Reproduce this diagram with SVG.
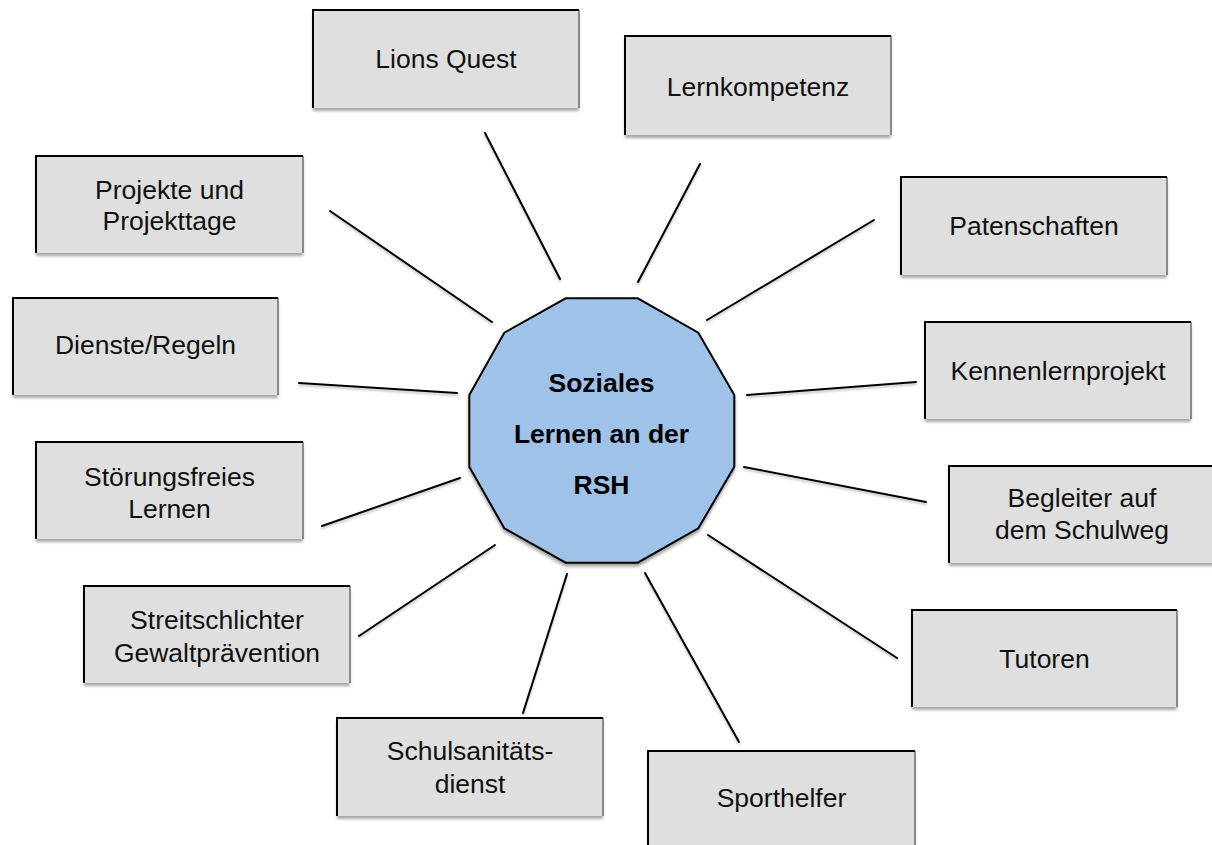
<svg xmlns="http://www.w3.org/2000/svg" width="1212" height="845" viewBox="0 0 1212 845">
<style>
.box{fill:#dfdfdf;filter:url(#sh)}
.edge{fill:none;stroke:#000;stroke-width:2}
.redge{fill:none;stroke:#333;stroke-width:1}
.lbl{font-family:"Liberation Sans",Arial,sans-serif;font-size:26.5px;fill:#111;text-anchor:middle}
.ctr{font-family:"Liberation Sans",Arial,sans-serif;font-size:26.5px;font-weight:bold;fill:#000;text-anchor:middle}
#connectors line{stroke:#000;stroke-width:2;stroke-linecap:round}
</style>
<defs>
<filter id="sh" x="-10%" y="-10%" width="120%" height="130%">
<feDropShadow dx="0" dy="3" stdDeviation="1.8" flood-color="#000" flood-opacity="0.35"/>
</filter>
<filter id="lsh" x="-10%" y="-10%" width="120%" height="120%">
<feDropShadow dx="0" dy="2" stdDeviation="1.2" flood-color="#000" flood-opacity="0.25"/>
</filter>
</defs>
<rect width="1212" height="845" fill="#fff"/>
<g id="connectors" filter="url(#lsh)">
<line x1="485" y1="133" x2="560" y2="279"/>
<line x1="700" y1="164" x2="638" y2="282"/>
<line x1="874" y1="220" x2="707" y2="320"/>
<line x1="916" y1="382" x2="747" y2="395"/>
<line x1="926" y1="502" x2="744" y2="467"/>
<line x1="897" y1="658" x2="708" y2="535"/>
<line x1="739" y1="742" x2="645" y2="573"/>
<line x1="523" y1="713" x2="567" y2="574"/>
<line x1="359" y1="636" x2="495" y2="545"/>
<line x1="322" y1="526" x2="460" y2="478"/>
<line x1="299" y1="383" x2="457" y2="393"/>
<line x1="330" y1="211" x2="492" y2="322"/>
</g>
<g id="center">
<polygon points="565.7,298.3 637.7,298.3 698.3,332.7 734.3,395 734.3,466.7 698.3,528.3 637.7,562.7 565.7,562.7 504.3,528.3 469.3,466.7 469.3,395 504.3,332.7" fill="#9fc2e8" stroke="#000" stroke-width="2" filter="url(#sh)"/>
<text class="ctr" x="601.5" y="392">Soziales</text>
<text class="ctr" x="601.5" y="443">Lernen an der</text>
<text class="ctr" x="601.5" y="494">RSH</text>
</g>
<g id="lionsquest">
<rect class="box" x="313" y="10" width="266" height="98"/>
<path class="edge" d="M313,108 V10 H579"/><path class="redge" d="M579,10 V108"/>
<text class="lbl" x="446" y="68">Lions Quest</text>
</g>
<g id="lernkompetenz">
<rect class="box" x="625" y="36" width="266" height="99"/>
<path class="edge" d="M625,135 V36 H891"/><path class="redge" d="M891,36 V135"/>
<text class="lbl" x="758" y="96">Lernkompetenz</text>
</g>
<g id="patenschaften">
<rect class="box" x="901" y="177" width="266" height="98"/>
<path class="edge" d="M901,275 V177 H1167"/><path class="redge" d="M1167,177 V275"/>
<text class="lbl" x="1034" y="235">Patenschaften</text>
</g>
<g id="kennenlernprojekt">
<rect class="box" x="925" y="322" width="266" height="97"/>
<path class="edge" d="M925,419 V322 H1191"/><path class="redge" d="M1191,322 V419"/>
<text class="lbl" x="1058" y="380">Kennenlernprojekt</text>
</g>
<g id="begleiter">
<rect class="box" x="949" y="466" width="266" height="97"/>
<path class="edge" d="M949,563 V466 H1215"/>
<text class="lbl" x="1082" y="507">Begleiter auf</text>
<text class="lbl" x="1082" y="539">dem Schulweg</text>
</g>
<g id="tutoren">
<rect class="box" x="912" y="610" width="265" height="97"/>
<path class="edge" d="M912,707 V610 H1177"/><path class="redge" d="M1177,610 V707"/>
<text class="lbl" x="1044.5" y="668">Tutoren</text>
</g>
<g id="sporthelfer">
<rect class="box" x="648" y="751" width="267" height="98"/>
<path class="edge" d="M648,849 V751 H915"/><path class="redge" d="M915,751 V849"/>
<text class="lbl" x="781.5" y="807">Sporthelfer</text>
</g>
<g id="schulsanitaetsdienst">
<rect class="box" x="337" y="718" width="266" height="98"/>
<path class="edge" d="M337,816 V718 H603"/><path class="redge" d="M603,718 V816"/>
<text class="lbl" x="470" y="760">Schulsanitäts-</text>
<text class="lbl" x="470" y="793">dienst</text>
</g>
<g id="streitschlichter">
<rect class="box" x="84" y="586" width="266" height="97"/>
<path class="edge" d="M84,683 V586 H350"/><path class="redge" d="M350,586 V683"/>
<text class="lbl" x="217" y="629">Streitschlichter</text>
<text class="lbl" x="217" y="662">Gewaltprävention</text>
</g>
<g id="stoerungsfreies">
<rect class="box" x="36" y="442" width="267" height="97"/>
<path class="edge" d="M36,539 V442 H303"/><path class="redge" d="M303,442 V539"/>
<text class="lbl" x="169.5" y="486">Störungsfreies</text>
<text class="lbl" x="169.5" y="518">Lernen</text>
</g>
<g id="dienste">
<rect class="box" x="13" y="298" width="265" height="97"/>
<path class="edge" d="M13,395 V298 H278"/><path class="redge" d="M278,298 V395"/>
<text class="lbl" x="145.5" y="354">Dienste/Regeln</text>
</g>
<g id="projekte">
<rect class="box" x="36" y="156" width="267" height="97"/>
<path class="edge" d="M36,253 V156 H303"/><path class="redge" d="M303,156 V253"/>
<text class="lbl" x="169.5" y="199">Projekte und</text>
<text class="lbl" x="169.5" y="230">Projekttage</text>
</g>
</svg>
